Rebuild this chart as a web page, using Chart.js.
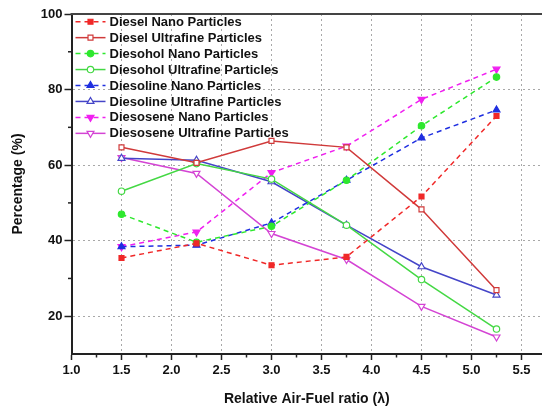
<!DOCTYPE html>
<html>
<head>
<meta charset="utf-8">
<script src="https://cdn.jsdelivr.net/npm/chart.js@4.4.1/dist/chart.umd.min.js"></script>
<style>
  html, body { margin: 0; padding: 0; background: #fff; }
  #wrap { width: 542px; height: 411px; position: relative; }
</style>
</head>
<body>
<div id="wrap"><canvas id="chart"></canvas></div>
<script>
// lambda values where the measurements were taken
const lambda = [1.5, 2.25, 3.0, 3.75, 4.5, 5.25];

// particle share (%) per fuel
const dieselNano = [35.4, 39.3, 33.5, 35.7, 51.7, 73.0];
const dieselUltra = [64.7, 60.6, 66.4, 64.7, 48.3, 26.9];
const diesoholNano = [47.0, 39.6, 43.8, 56.0, 70.4, 83.3];
const diesoholUltra = [53.1, 60.4, 56.3, 44.1, 29.7, 16.6];
const diesolineNano = [38.4, 38.8, 44.7, 56.0, 67.2, 74.6];
const diesolineUltra = [61.8, 61.3, 55.6, 44.1, 33.1, 25.6];
const diesoseneNano = [38.4, 42.3, 58.0, 65.0, 77.4, 85.4];
const diesoseneUltra = [62.0, 57.8, 41.9, 35.0, 22.6, 14.5];

// axis ticks
const xTicks = [1.0, 1.5, 2.0, 2.5, 3.0, 3.5, 4.0, 4.5, 5.0, 5.5];
const xMinorTicks = [1.25, 1.75, 2.25, 2.75, 3.25, 3.75, 4.25, 4.75, 5.25];
const yTicks = [20, 40, 60, 80, 100];
const yMinorTicks = [30, 50, 70, 90];

const FONT = '"Liberation Sans", Arial, sans-serif';

function series(label, values, color, dashed, marker, filled) {
    return {
        label: label,
        data: values.map((v, i) => ({ x: lambda[i], y: v })),
        borderColor: color,
        borderWidth: 1.5,
        borderDash: dashed ? [5, 4] : [],
        pointStyle: marker.style,
        rotation: marker.rotation || 0,
        pointRadius: marker.radius,
        pointBorderWidth: 1.2,
        pointBorderColor: color,
        pointBackgroundColor: filled ? color : '#fff',
        tension: 0
    };
}

const square = { style: 'rect', radius: 3.5 };
const circle = { style: 'circle', radius: 3.2 };
const upTri = { style: 'triangle', radius: 4 };
const downTri = { style: 'triangle', rotation: 180, radius: 4 };

const datasets = [
    series('Diesel Nano Particles', dieselNano, '#f02828', true, square, true),
    series('Diesel Ultrafine Particles', dieselUltra, '#d03a3a', false, square, false),
    series('Diesohol Nano Particles', diesoholNano, '#2ee82e', true, circle, true),
    series('Diesohol Ultrafine Particles', diesoholUltra, '#44d844', false, circle, false),
    series('Diesoline Nano Particles', diesolineNano, '#1f2fe0', true, upTri, true),
    series('Diesoline Ultrafine Particles', diesolineUltra, '#4545c8', false, upTri, false),
    series('Diesosene Nano Particles', diesoseneNano, '#f020f0', true, downTri, true),
    series('Diesosene Ultrafine Particles', diesoseneUltra, '#d444d4', false, downTri, false)
];

// top frame line, minor ticks and the legend box
const extras = {
    id: 'extras',
    afterDraw(chart) {
        const ctx = chart.ctx;
        const area = chart.chartArea;
        const xs = chart.scales.x;
        const ys = chart.scales.y;

        ctx.save();
        ctx.strokeStyle = '#444';
        ctx.lineWidth = 2;
        ctx.beginPath();
        ctx.moveTo(area.left - 1, area.top);
        ctx.lineTo(area.right, area.top);
        ctx.stroke();

        ctx.lineWidth = 1.5;
        ctx.strokeStyle = '#222';
        xMinorTicks.forEach(v => {
            const px = xs.getPixelForValue(v);
            ctx.beginPath();
            ctx.moveTo(px, area.bottom);
            ctx.lineTo(px, area.bottom + 3.5);
            ctx.stroke();
        });
        yMinorTicks.forEach(v => {
            const py = ys.getPixelForValue(v);
            ctx.beginPath();
            ctx.moveTo(area.left, py);
            ctx.lineTo(area.left - 3.5, py);
            ctx.stroke();
        });

        // legend
        const x0 = area.left + 4;
        const x1 = area.left + 34;
        const textX = area.left + 38;
        ctx.font = 'bold 13px ' + FONT;
        ctx.textBaseline = 'middle';
        ctx.textAlign = 'left';
        chart.data.datasets.forEach((ds, i) => {
            const y = 21.7 + i * 15.95;
            ctx.strokeStyle = ds.borderColor;
            ctx.lineWidth = 1.5;
            ctx.setLineDash(ds.borderDash);
            ctx.beginPath();
            ctx.moveTo(x0, y);
            ctx.lineTo(x1, y);
            ctx.stroke();
            ctx.setLineDash([]);
            ctx.fillStyle = ds.pointBackgroundColor;
            ctx.strokeStyle = ds.pointBorderColor;
            ctx.lineWidth = ds.pointBorderWidth;
            Chart.helpers.drawPoint(ctx, {
                pointStyle: ds.pointStyle,
                rotation: ds.rotation,
                radius: ds.pointRadius,
                borderWidth: ds.pointBorderWidth
            }, (x0 + x1) / 2, y);
            ctx.fillStyle = '#111';
            ctx.fillText(ds.label, textX, y + 0.5);
        });
        ctx.restore();
    }
};

const gridDash = [2, 3];

new Chart(document.getElementById('chart'), {
    type: 'line',
    data: { datasets: datasets },
    options: {
        responsive: true,
        maintainAspectRatio: false,
        animation: false,
        layout: { autoPadding: false, padding: { top: 14, right: 0, left: 0, bottom: 0 } },
        plugins: {
            legend: { display: false },
            tooltip: { enabled: false }
        },
        scales: {
            x: {
                type: 'linear',
                min: 1.0,
                max: 5.705,
                afterBuildTicks: scale => { scale.ticks = xTicks.map(v => ({ value: v })); },
                afterFit: scale => { scale.height = 57; },
                ticks: {
                    color: '#111',
                    padding: 3,
                    maxRotation: 0,
                    font: { family: FONT, size: 13, weight: 'bold' },
                    callback: v => v.toFixed(1)
                },
                grid: {
                    color: ctx => ctx.tick && ctx.tick.value === 1.0 ? 'rgba(0,0,0,0)' : '#a8a8a8',
                    lineWidth: 1,
                    tickLength: 6,
                    tickColor: '#222',
                    tickWidth: 1.5
                },
                border: { color: '#222', width: 2, dash: gridDash },
                title: {
                    display: true,
                    text: 'Relative Air-Fuel ratio (λ)',
                    color: '#111',
                    font: { family: FONT, size: 14, weight: 'bold', lineHeight: 1.2 },
                    padding: { top: 0, bottom: 3 }
                }
            },
            y: {
                type: 'linear',
                min: 10,
                max: 100,
                afterBuildTicks: scale => { scale.ticks = yTicks.map(v => ({ value: v })); },
                afterFit: scale => { scale.width = 71.5; },
                ticks: {
                    color: '#111',
                    padding: 2,
                    font: { family: FONT, size: 13, weight: 'bold' }
                },
                grid: {
                    color: ctx => ctx.tick && ctx.tick.value === 100 ? 'rgba(0,0,0,0)' : '#a8a8a8',
                    lineWidth: 1,
                    tickLength: 7,
                    tickColor: '#222',
                    tickWidth: 1.5
                },
                border: { color: '#222', width: 2, dash: gridDash },
                title: {
                    display: true,
                    text: 'Percentage (%)',
                    color: '#111',
                    font: { family: FONT, size: 14, weight: 'bold', lineHeight: 1.2 },
                    padding: { top: 10, bottom: 0 }
                }
            }
        }
    },
    plugins: [extras]
});
</script>
</body>
</html>
